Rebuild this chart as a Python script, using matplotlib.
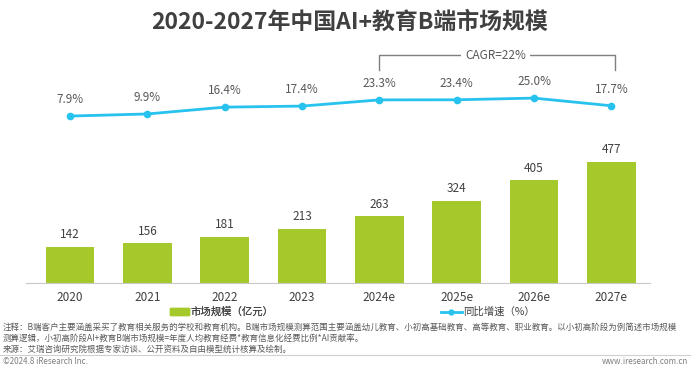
import matplotlib
import matplotlib.pyplot as plt
from matplotlib.patches import Patch
from matplotlib.lines import Line2D

matplotlib.use("Agg")
plt.rcParams["font.family"] = ["Noto Sans CJK SC", "DejaVu Sans"]

years = ["2020", "2021", "2022", "2023", "2024e", "2025e", "2026e", "2027e"]
market = [142, 156, 181, 213, 263, 324, 405, 477]
growth = [7.9, 9.9, 16.4, 17.4, 23.3, 23.4, 25.0, 17.7]

green = "#a5c92b"
blue = "#27c3ee"
gray = "#595959"

fig = plt.figure(figsize=(7, 3.69), dpi=100)
W, H = 700, 369

# axes spans pixel rows 40..283
ax = fig.add_axes([26 / W, (H - 283) / H, 624 / W, 243 / H])
x = range(len(years))
ax.bar(x, market, width=0.63, color=green, zorder=2)
ax.set_xlim(-0.57, 7.5)
ax.set_ylim(0, 957)
for i, v in enumerate(market):
    ax.annotate(str(v), (i, v), xytext=(0, 4), textcoords="offset points",
                ha="center", va="bottom", fontsize=8.5, color="#404040")
ax.set_yticks([])
ax.set_xticks(list(x))
ax.set_xticklabels(years, fontsize=8.5, color="#404040")
ax.tick_params(axis="x", length=0, pad=6)
for s in ["top", "right", "left"]:
    ax.spines[s].set_visible(False)
ax.spines["bottom"].set_color("#c8c8c8")

ax2 = ax.twinx()
ax2.set_ylim(-151, 80.3)
ax2.plot(x, growth, color=blue, lw=2, marker="o", ms=4.5, zorder=3)
for i, v in enumerate(growth):
    ax2.annotate(f"{v:.1f}%", (i, v), xytext=(0, 7), textcoords="offset points",
                 ha="center", va="bottom", fontsize=8.5, color=gray)
ax2.axis("off")

# CAGR bracket
ax2.plot([4, 4, 7.05, 7.05], [51.7, 66, 66, 51.7], color="#7f7f7f", lw=1, clip_on=False)
ax2.text(5.5, 66, "CAGR=22%", ha="center", va="center", fontsize=8.5, color=gray,
         bbox=dict(facecolor="white", edgecolor="none", pad=3))

fig.text(0.5, 1 - 22 / H, "2020-2027年中国AI+教育B端市场规模", ha="center", va="center",
         fontsize=16.5, fontweight="bold", color="#404040")

leg_y = 1 - 312 / H
bar_leg = fig.legend(handles=[Patch(color=green, label="市场规模（亿元）")],
                     loc="center left", bbox_to_anchor=(170 / W, leg_y), frameon=False,
                     fontsize=7.5, handlelength=1.8, handleheight=0.6, borderpad=0,
                     borderaxespad=0, handletextpad=0.2, labelcolor="#404040")
fig.legend(handles=[Line2D([0], [0], color=blue, lw=2, marker="o", ms=3.5,
                           label="同比增速（%）")],
           loc="center left", bbox_to_anchor=(441 / W, leg_y), frameon=False,
           fontsize=7.5, handlelength=2.0, borderpad=0, borderaxespad=0,
           handletextpad=0.1, labelcolor="#404040")
fig.add_artist(bar_leg)

notes = [
    "注释：B端客户主要涵盖采买了教育相关服务的学校和教育机构。B端市场规模测算范围主要涵盖幼儿教育、小初高基础教育、高等教育、职业教育。以小初高阶段为例简述市场规模",
    "测算逻辑，小初高阶段AI+教育B端市场规模=年度人均教育经费*教育信息化经费比例*AI贡献率。",
    "来源：艾瑞咨询研究院根据专家访谈、公开资料及自由模型统计核算及绘制。",
]
for k, line in enumerate(notes):
    fig.text(3 / W, 1 - (327 + k * 11) / H, line, ha="left", va="center",
             fontsize=6.1, color="#595959")

fig.add_artist(Line2D([0, 690 / W], [1 - 355 / H, 1 - 355 / H], color="#d0d0d0", lw=0.8))
fig.text(3 / W, 1 - 362 / H, "©2024.8 iResearch Inc.", ha="left", va="center",
         fontsize=5.8, color="#7f7f7f")
fig.text(688 / W, 1 - 362 / H, "www.iresearch.com.cn", ha="right", va="center",
         fontsize=5.8, color="#7f7f7f")

fig.savefig("out.png", dpi=100)
